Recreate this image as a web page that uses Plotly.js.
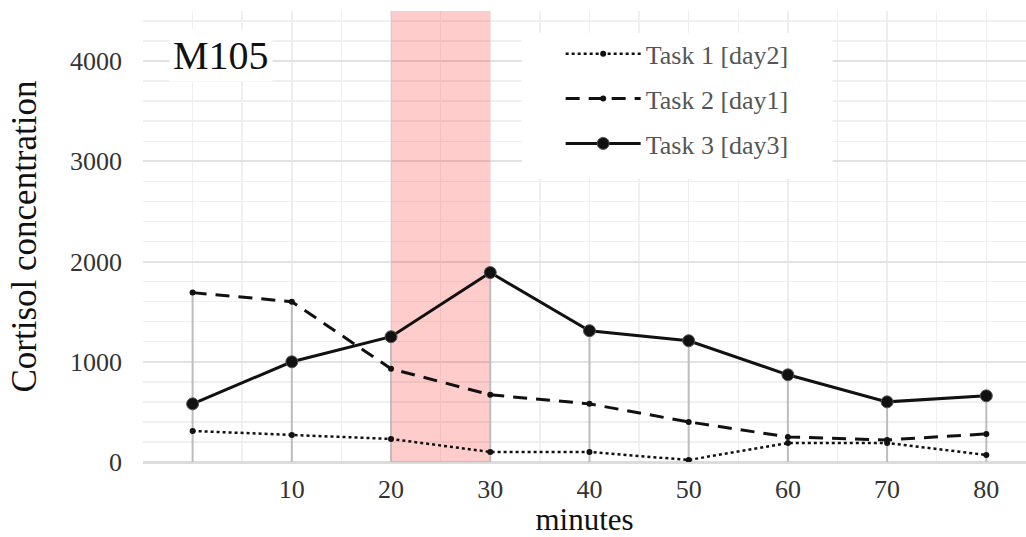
<!DOCTYPE html>
<html><head><meta charset="utf-8">
<script src="https://cdn.plot.ly/plotly-3.0.1.min.js"></script>
<style>html,body{margin:0;padding:0;background:#fff}#chart{width:1026px;height:537px}</style>
</head><body><div id="chart"></div>
<script>
// ---- data ----
const minutes = [0, 10, 20, 30, 40, 50, 60, 70, 80];
const task1Day2 = [310, 270, 230, 100, 100, 20, 190, 190, 70];
const task2Day1 = [1690, 1600, 930, 670, 580, 400, 250, 220, 280];
const task3Day3 = [580, 1000, 1250, 1890, 1310, 1210, 870, 600, 660];
const seriesNames = ['Task 1 [day2]', 'Task 2 [day1]', 'Task 3 [day3]'];
const xTickValues = [10, 20, 30, 40, 50, 60, 70, 80];
const yTickValues = [0, 1000, 2000, 3000, 4000];
const stressWindow = [20, 30];
const panelLabel = 'M105';
const xTitle = 'minutes';
const yTitle = 'Cortisol concentration';

// ---- drop lines from the highest value down to zero ----
const dropX = [], dropY = [];
minutes.forEach((m, i) => {
  dropX.push(m, m, null);
  dropY.push(0, Math.max(task1Day2[i], task2Day1[i], task3Day3[i]), null);
});

const serif = 'Liberation Serif, Times New Roman, serif';
const xRange = [-5, 84];
const yRange = [0, 4500];
// legend backdrop box as fractions of the plot area
const legendBox = {x0: 0.429, x1: 0.781, y0: 0.628, y1: 0.951};
const fx = f => xRange[0] + f * (xRange[1] - xRange[0]);
const fy = f => yRange[0] + f * (yRange[1] - yRange[0]);

const traces = [
  {x: dropX, y: dropY, mode: 'lines', showlegend: false, hoverinfo: 'skip',
   line: {color: '#bdbdbd', width: 2}},
  {x: minutes, y: task1Day2, name: seriesNames[0], mode: 'lines+markers', legendgroup: 'a',
   line: {color: '#111', width: 2.5, dash: 'dot'}, marker: {color: '#111', size: 6}},
  {x: minutes, y: task2Day1, name: seriesNames[1], mode: 'lines+markers', legendgroup: 'b',
   line: {color: '#111', width: 3, dash: '14px,9px'}, marker: {color: '#111', size: 6}},
  {x: minutes, y: task3Day3, name: seriesNames[2], mode: 'lines+markers', legendgroup: 'c',
   line: {color: '#111', width: 3}, marker: {color: '#111', size: 12, line: {color: '#555', width: 1}}}
];

const layout = {
  width: 1026, height: 537,
  margin: {l: 143, r: 0, t: 11, b: 75},
  paper_bgcolor: '#fff', plot_bgcolor: '#fff',
  font: {family: serif, color: '#444'},
  xaxis: {
    range: xRange, tickvals: xTickValues, ticktext: xTickValues.map(String),
    showgrid: true, gridcolor: '#eeeeee', gridwidth: 1.5,
    minor: {dtick: 5, tick0: 0, showgrid: true, gridcolor: '#f0f0f0', gridwidth: 1.5},
    zeroline: false, showline: false, ticks: '',
    ticklabelstandoff: 9,
    tickfont: {family: serif, size: 26, color: '#333'},
    title: {text: xTitle, font: {family: serif, size: 31, color: '#111'}, standoff: 2}
  },
  yaxis: {
    range: yRange, tickvals: yTickValues, ticktext: yTickValues.map(String),
    showgrid: true, gridcolor: '#e2e2e2', gridwidth: 2,
    minor: {dtick: 200, tick0: 0, showgrid: true, gridcolor: '#f0f0f0', gridwidth: 1.5},
    zeroline: true, zerolinecolor: '#dcdcdc', zerolinewidth: 3,
    showline: false, ticks: '',
    ticklabelstandoff: 20,
    tickfont: {family: serif, size: 26, color: '#333'},
    title: {text: yTitle, font: {family: serif, size: 35, color: '#111'}, standoff: 22}
  },
  shapes: [
    // stress window band, drawn above the gridlines
    {type: 'rect', xref: 'x', yref: 'y', x0: stressWindow[0], x1: stressWindow[1], y0: yRange[0], y1: yRange[1],
     fillcolor: 'rgba(255,0,0,0.2)', line: {width: 0}, layer: 'between'},
    // white backdrop behind the legend
    {type: 'rect', xref: 'x', yref: 'y',
     x0: fx(legendBox.x0), x1: fx(legendBox.x1), y0: fy(legendBox.y0), y1: fy(legendBox.y1),
     fillcolor: '#fff', line: {width: 0}, layer: 'between'}
  ],
  annotations: [
    {text: panelLabel, xref: 'paper', yref: 'paper', x: 0.088, y: 0.902, xanchor: 'center', yanchor: 'middle',
     showarrow: false, bgcolor: '#fff', borderpad: 3,
     font: {family: serif, size: 40, color: '#111'}}
  ],
  legend: {
    x: 0.473, y: 0.957, xanchor: 'left', yanchor: 'top',
    bgcolor: 'rgba(255,255,255,0)', borderwidth: 0, itemwidth: 75,
    tracegroupgap: 8,
    font: {family: serif, size: 26, color: '#555'}
  },
  showlegend: true
};

Plotly.newPlot('chart', traces, layout, {displayModeBar: false, staticPlot: true});
</script>
</body></html>
